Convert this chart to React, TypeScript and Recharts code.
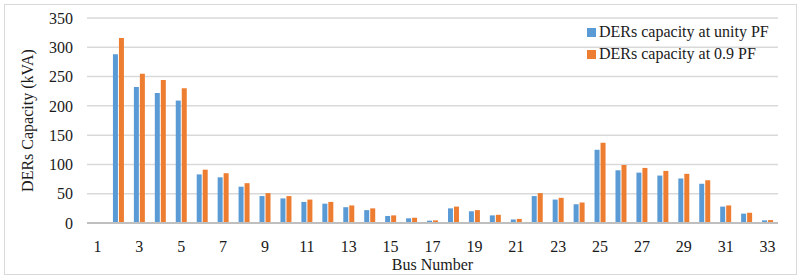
import React from "react";
import { BarChart, Bar, XAxis, YAxis, CartesianGrid } from "recharts";

const buses = [
  1, 2, 3, 4, 5, 6, 7, 8, 9, 10, 11, 12, 13, 14, 15, 16, 17, 18, 19, 20, 21, 22, 23, 24, 25, 26, 27,
  28, 29, 30, 31, 32, 33,
];
const unityPf = [
  0, 288, 232, 222, 209, 83, 78, 62, 46, 42, 36, 33, 27, 22, 12, 8, 4, 25, 20, 13, 6, 46, 40, 32, 125,
  90, 86, 81, 76, 67, 28, 16, 4.5,
];
const pf09 = [
  0, 316, 255, 244, 230, 91, 85, 68, 51, 46, 40, 36, 30, 25, 13, 9, 4.5, 28, 22, 14, 7, 51, 43, 35, 137,
  99, 94, 89, 84, 73, 30, 17.5, 5,
];
const yTicks = [0, 50, 100, 150, 200, 250, 300, 350];

const BLUE = "#5B9BD5";
const ORANGE = "#ED7D31";
const FONT = "'Liberation Serif', 'Times New Roman', serif";
const TEXT = "#1a1a1a";

const chartData = buses.map((b, i) => ({
  bus: b,
  unity: unityPf[i],
  pf09: pf09[i],
}));

const legendItems = [
  { label: "DERs capacity at unity PF", color: BLUE },
  { label: "DERs capacity at 0.9 PF", color: ORANGE },
];

// legend drawn outside the chart so it doesn't eat plot width
function LegendBox() {
  return (
    <div
      style={{
        position: "absolute",
        left: 587,
        top: 21,
        fontFamily: FONT,
        fontSize: 16,
        color: TEXT,
      }}
    >
      {legendItems.map((it) => (
        <div key={it.label} style={{ display: "flex", alignItems: "center", height: 22 }}>
          <span
            style={{ width: 9, height: 9, background: it.color, display: "inline-block", marginRight: 3 }}
          />
          <span>{it.label}</span>
        </div>
      ))}
    </div>
  );
}

export default function App() {
  return (
    <div style={{ position: "absolute", left: 0, top: 0, width: 801, height: 277, background: "#fff" }}>
      <div
        style={{
          position: "absolute",
          left: 4,
          top: 4,
          width: 793,
          height: 271,
          border: "1px solid #D9D9D9",
          boxSizing: "border-box",
        }}
      />
      <BarChart
        width={801}
        height={277}
        data={chartData}
        margin={{ top: 18, right: 23, left: 0, bottom: 0 }}
        barSize={5}
        barGap={1}
        style={{ position: "absolute", left: 0, top: 0 }}
      >
        <CartesianGrid vertical={false} stroke="#D9D9D9" strokeWidth={1.5} />
        <XAxis
          dataKey="bus"
          interval={1}
          height={54}
          tickLine={false}
          tickMargin={12}
          axisLine={{ stroke: "#BFBFBF", strokeWidth: 2 }}
          tick={{ fill: TEXT, fontFamily: FONT, fontSize: 16 }}
          label={{
            value: "Bus Number",
            position: "insideBottom",
            offset: 7,
            fill: TEXT,
            fontFamily: FONT,
            fontSize: 16,
          }}
        />
        <YAxis
          width={87}
          domain={[0, 350]}
          ticks={yTicks}
          interval={0}
          axisLine={false}
          tickLine={false}
          tickMargin={8}
          tick={{ fill: TEXT, fontFamily: FONT, fontSize: 16 }}
          label={({ viewBox }: any) => {
            const cx = viewBox.x + 27;
            const cy = viewBox.y + viewBox.height / 2;
            return (
              <text
                x={cx}
                y={cy}
                transform={`rotate(-90, ${cx}, ${cy})`}
                textAnchor="middle"
                dominantBaseline="central"
                fill={TEXT}
                fontFamily={FONT}
                fontSize={16}
              >
                DERs Capacity (kVA)
              </text>
            );
          }}
        />
        <Bar dataKey="unity" name="DERs capacity at unity PF" fill={BLUE} isAnimationActive={false} />
        <Bar dataKey="pf09" name="DERs capacity at 0.9 PF" fill={ORANGE} isAnimationActive={false} />
      </BarChart>
      <LegendBox />
    </div>
  );
}
